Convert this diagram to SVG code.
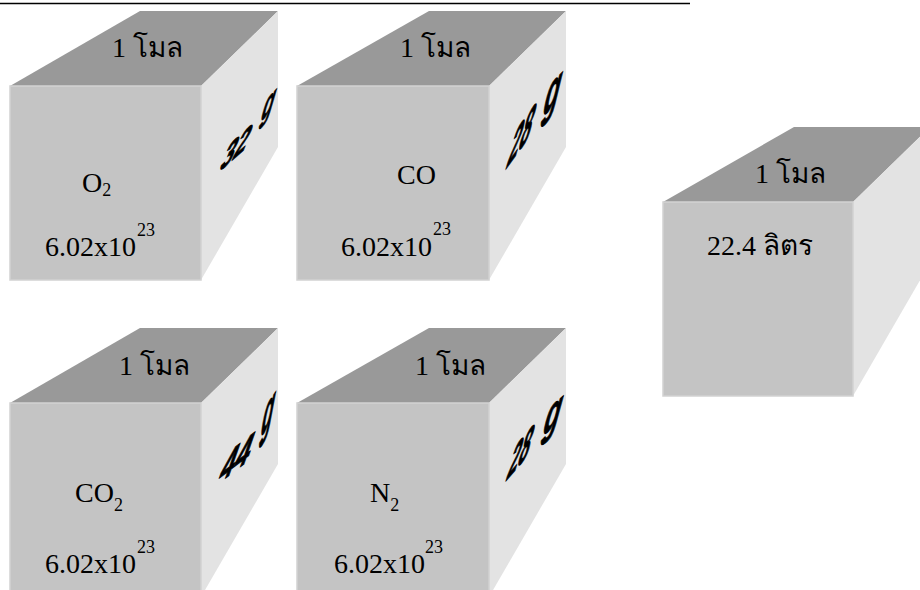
<svg xmlns="http://www.w3.org/2000/svg" width="920" height="590" viewBox="0 0 920 590">
<style>
.top{fill:#999999}
.front{fill:#c4c4c4;stroke:#d2d2d2;stroke-width:1.5}
.side{fill:#e3e3e3}
.t{font-family:'Liberation Serif','Times New Roman',serif;font-size:28px;fill:#000}
.s{font-size:18px}
.w{font-family:'Liberation Sans','DejaVu Sans',sans-serif;font-weight:bold;font-style:italic;fill:#000;stroke:#000;stroke-width:1;stroke-linejoin:round}
</style>
<rect width="920" height="590" fill="#fff"/>
<line x1="0" y1="3.5" x2="690" y2="3.5" stroke="#000" stroke-width="1.6"/>

<g id="box-o2">
<polygon class="top" points="10,86 140,11 278,11 201,86"/>
<polygon class="side" points="201,86 278,11 278,147 201,280"/>
<rect class="front" x="10" y="86" width="191" height="194"/>
<text class="t" x="112" y="57">1 โมล</text>
<text class="t" x="82" y="192">O<tspan class="s" dy="4">2</tspan></text>
<text class="t" x="45" y="256">6.02x10</text>
<text class="t s" x="137" y="236">23</text>
<text class="w" font-size="30" transform="matrix(0.8,-0.7,-0.4,1.25,219,172)">32</text>
<text class="w" font-size="37" transform="matrix(0.55,-0.6,-0.25,1.1,260,123)">g</text>
</g>

<g id="box-co">
<polygon class="top" points="297,86 429,11 566,11 489,86"/>
<polygon class="side" points="489,86 566,11 566,147 489,280"/>
<rect class="front" x="297" y="86" width="192" height="194"/>
<text class="t" x="400" y="57">1 โมล</text>
<text class="t" x="397" y="184">CO</text>
<text class="t" x="341" y="256">6.02x10</text>
<text class="t s" x="433" y="235">23</text>
<text class="w" font-size="34" transform="matrix(0.62,-0.85,-0.35,1.55,506,169)">28</text>
<text class="w" font-size="40" transform="matrix(0.66,-0.69,-0.25,1.43,542,118)">g</text>
</g>

<g id="box-co2">
<polygon class="top" points="10,403 140,328 278,328 201,403"/>
<polygon class="side" points="201,403 278,328 278,464 201,597"/>
<rect class="front" x="10" y="403" width="191" height="194"/>
<text class="t" x="119" y="375">1 โมล</text>
<text class="t" x="75" y="502">CO<tspan class="s" dy="9">2</tspan></text>
<text class="t" x="45" y="573">6.02x10</text>
<text class="t s" x="137" y="553">23</text>
<text class="w" font-size="32" transform="matrix(0.85,-0.65,-0.35,1.35,218,484)">44</text>
<text class="w" font-size="40" transform="matrix(0.5,-0.75,-0.2,1.43,260,439)">g</text>
</g>

<g id="box-n2">
<polygon class="top" points="297,403 429,328 566,328 489,403"/>
<polygon class="side" points="489,403 566,328 566,464 489,597"/>
<rect class="front" x="297" y="403" width="192" height="194"/>
<text class="t" x="415" y="375">1 โมล</text>
<text class="t" x="370" y="502">N<tspan class="s" dy="9">2</tspan></text>
<text class="t" x="334" y="573">6.02x10</text>
<text class="t s" x="425" y="553">23</text>
<text class="w" font-size="32" transform="matrix(0.62,-0.72,-0.35,1.5,506,481)">28</text>
<text class="w" font-size="40" transform="matrix(0.69,-0.6,-0.25,1.29,542,437)">g</text>
</g>

<g id="box-volume">
<polygon class="top" points="663,202 794,127 930,127 853,202"/>
<polygon class="side" points="853,202 930,127 930,263 853,396"/>
<rect class="front" x="663" y="202" width="190" height="194"/>
<text class="t" x="755" y="183">1 โมล</text>
<text class="t" x="707" y="255">22.4 ลิตร</text>
</g>

<g id="connectors"></g>
</svg>
